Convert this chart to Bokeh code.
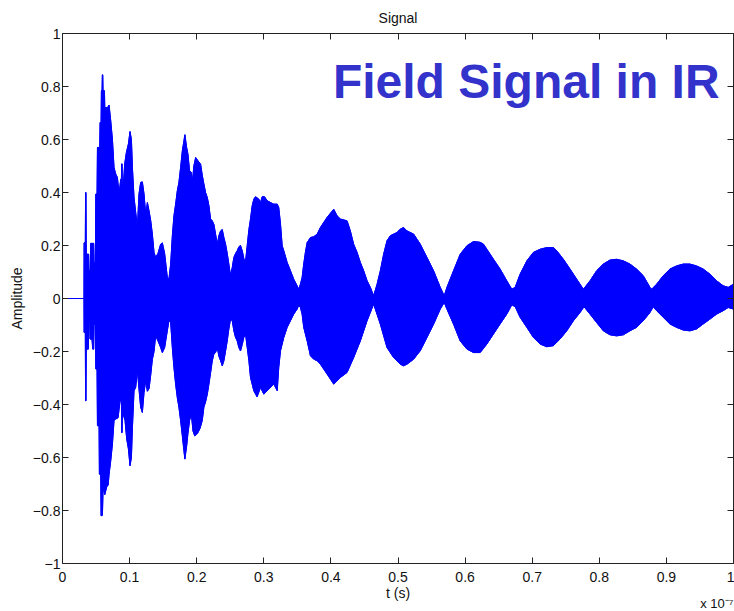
from bokeh.plotting import figure
from bokeh.models import Range1d, LinearAxis, FixedTicker, Label, Title
from bokeh.embed import file_html
from bokeh.resources import INLINE

# ---- data (t in units of 1e-7 s) ----
t_flat = [0.0, 0.032]
v_flat = [0.0, 0.0]

t_upper = [0.0320, 0.0322, 0.0340, 0.0344, 0.0350, 0.0354, 0.0390, 0.0395, 0.0415, 0.0420,
           0.0465, 0.0470, 0.0490, 0.0496, 0.0515, 0.0521, 0.0555, 0.0560, 0.0575, 0.0580,
           0.0590, 0.0594, 0.0600, 0.0604, 0.0625, 0.0630, 0.0670, 0.0694, 0.0719, 0.0744,
           0.0768, 0.0793, 0.0818, 0.0843, 0.0868, 0.0878, 0.0882, 0.0888, 0.0892, 0.0907,
           0.0927, 0.0952, 0.0982, 0.1006, 0.1027, 0.1042, 0.1066, 0.1091, 0.1116, 0.1140,
           0.1165, 0.1190, 0.1215, 0.1240, 0.1265, 0.1290, 0.1314, 0.1339, 0.1364, 0.1388,
           0.1423, 0.1463, 0.1488, 0.1522, 0.1562, 0.1586, 0.1612, 0.1637, 0.1661, 0.1686,
           0.1711, 0.1735, 0.1760, 0.1786, 0.1810, 0.1824, 0.1850, 0.1869, 0.1894, 0.1920,
           0.1935, 0.1958, 0.1984, 0.2018, 0.2058, 0.2083, 0.2107, 0.2132, 0.2158, 0.2182,
           0.2207, 0.2232, 0.2256, 0.2281, 0.2307, 0.2330, 0.2356, 0.2381, 0.2405, 0.2430,
           0.2455, 0.2479, 0.2504, 0.2530, 0.2554, 0.2579, 0.2604, 0.2628, 0.2653, 0.2679,
           0.2703, 0.2728, 0.2753, 0.2778, 0.2802, 0.2827, 0.2851, 0.2877, 0.2926, 0.2951,
           0.2976, 0.3010, 0.3050, 0.3100, 0.3149, 0.3200, 0.3223, 0.3249, 0.3274, 0.3298,
           0.3348, 0.3397, 0.3446, 0.3497, 0.3521, 0.3546, 0.3571, 0.3595, 0.3620, 0.3646,
           0.3695, 0.3744, 0.3795, 0.3844, 0.3943, 0.4042, 0.4092, 0.4141, 0.4241, 0.4290,
           0.4339, 0.4390, 0.4439, 0.4488, 0.4539, 0.4588, 0.4637, 0.4688, 0.4737, 0.4786,
           0.4836, 0.4886, 0.4985, 0.5034, 0.5083, 0.5134, 0.5233, 0.5332, 0.5432, 0.5530,
           0.5630, 0.5689, 0.5729, 0.5828, 0.5927, 0.6027, 0.6125, 0.6225, 0.6274, 0.6324,
           0.6423, 0.6522, 0.6621, 0.6696, 0.6746, 0.6820, 0.6920, 0.7018, 0.7118, 0.7217,
           0.7316, 0.7366, 0.7465, 0.7564, 0.7663, 0.7763, 0.7862, 0.7961, 0.8060, 0.8159,
           0.8258, 0.8358, 0.8457, 0.8556, 0.8655, 0.8755, 0.8780, 0.8854, 0.8953, 0.9052,
           0.9152, 0.9251, 0.9350, 0.9449, 0.9549, 0.9648, 0.9747, 0.9846, 0.9921, 1.0000]
v_upper = [0.000, 0.210, 0.210, 0.400, 0.400, 0.167, 0.167, 0.105, 0.105, 0.208,
           0.208, 0.136, 0.136, 0.394, 0.394, 0.570, 0.570, 0.664, 0.664, 0.784,
           0.784, 0.844, 0.844, 0.784, 0.784, 0.720, 0.720, 0.730, 0.670, 0.600,
           0.494, 0.470, 0.457, 0.395, 0.450, 0.450, 0.508, 0.508, 0.430, 0.430,
           0.508, 0.551, 0.583, 0.630, 0.600, 0.494, 0.381, 0.325, 0.268, 0.394,
           0.438, 0.440, 0.394, 0.317, 0.362, 0.330, 0.295, 0.243, 0.174, 0.155,
           0.170, 0.205, 0.210, 0.170, 0.080, 0.073, 0.130, 0.236, 0.312, 0.356,
           0.406, 0.438, 0.494, 0.557, 0.595, 0.618, 0.570, 0.545, 0.482, 0.476,
           0.438, 0.500, 0.532, 0.520, 0.507, 0.465, 0.432, 0.400, 0.381, 0.350,
           0.300, 0.293, 0.280, 0.243, 0.205, 0.236, 0.255, 0.260, 0.230, 0.205,
           0.170, 0.130, 0.086, 0.117, 0.155, 0.170, 0.180, 0.195, 0.200, 0.180,
           0.150, 0.140, 0.200, 0.260, 0.300, 0.350, 0.375, 0.384, 0.375, 0.362,
           0.384, 0.384, 0.369, 0.362, 0.356, 0.356, 0.343, 0.281, 0.199, 0.180,
           0.136, 0.105, 0.073, 0.048, 0.035, 0.054, 0.079, 0.130, 0.174, 0.211,
           0.230, 0.233, 0.243, 0.268, 0.306, 0.337, 0.312, 0.300, 0.293, 0.255,
           0.205, 0.174, 0.136, 0.105, 0.067, 0.042, 0.010, 0.054, 0.105, 0.167,
           0.218, 0.237, 0.249, 0.262, 0.268, 0.255, 0.243, 0.205, 0.155, 0.105,
           0.042, 0.010, 0.042, 0.105, 0.167, 0.199, 0.215, 0.212, 0.205, 0.186,
           0.148, 0.111, 0.067, 0.035, 0.042, 0.092, 0.142, 0.174, 0.186, 0.192,
           0.192, 0.180, 0.148, 0.111, 0.073, 0.035, 0.067, 0.105, 0.130, 0.145,
           0.148, 0.142, 0.130, 0.111, 0.086, 0.042, 0.035, 0.054, 0.086, 0.111,
           0.123, 0.130, 0.130, 0.123, 0.111, 0.092, 0.067, 0.048, 0.042, 0.054]

t_lower = [0.0320, 0.0322, 0.0340, 0.0344, 0.0350, 0.0354, 0.0385, 0.0390, 0.0405, 0.0410,
           0.0440, 0.0450, 0.0465, 0.0470, 0.0490, 0.0496, 0.0515, 0.0521, 0.0545, 0.0550,
           0.0570, 0.0575, 0.0595, 0.0605, 0.0630, 0.0660, 0.0680, 0.0694, 0.0719, 0.0744,
           0.0768, 0.0793, 0.0828, 0.0858, 0.0878, 0.0882, 0.0888, 0.0892, 0.0907, 0.0932,
           0.0957, 0.0982, 0.1006, 0.1027, 0.1042, 0.1066, 0.1091, 0.1116, 0.1140, 0.1165,
           0.1190, 0.1215, 0.1240, 0.1265, 0.1290, 0.1314, 0.1339, 0.1364, 0.1388, 0.1423,
           0.1463, 0.1488, 0.1522, 0.1562, 0.1586, 0.1612, 0.1637, 0.1661, 0.1686, 0.1711,
           0.1735, 0.1760, 0.1786, 0.1810, 0.1824, 0.1850, 0.1869, 0.1894, 0.1920, 0.1945,
           0.1970, 0.2010, 0.2050, 0.2083, 0.2107, 0.2132, 0.2158, 0.2182, 0.2207, 0.2232,
           0.2256, 0.2281, 0.2307, 0.2330, 0.2356, 0.2381, 0.2405, 0.2430, 0.2455, 0.2479,
           0.2504, 0.2530, 0.2554, 0.2579, 0.2604, 0.2628, 0.2653, 0.2679, 0.2702, 0.2728,
           0.2753, 0.2778, 0.2802, 0.2851, 0.2900, 0.2951, 0.3000, 0.3050, 0.3100, 0.3149,
           0.3200, 0.3223, 0.3249, 0.3298, 0.3348, 0.3397, 0.3446, 0.3497, 0.3521, 0.3546,
           0.3571, 0.3595, 0.3646, 0.3695, 0.3744, 0.3795, 0.3844, 0.3943, 0.4042, 0.4141,
           0.4241, 0.4339, 0.4439, 0.4539, 0.4637, 0.4737, 0.4836, 0.4935, 0.5034, 0.5083,
           0.5134, 0.5233, 0.5332, 0.5432, 0.5530, 0.5630, 0.5689, 0.5729, 0.5828, 0.5927,
           0.6027, 0.6125, 0.6225, 0.6324, 0.6423, 0.6522, 0.6621, 0.6696, 0.6746, 0.6820,
           0.6920, 0.7018, 0.7118, 0.7217, 0.7316, 0.7415, 0.7515, 0.7614, 0.7713, 0.7772,
           0.7862, 0.7961, 0.8060, 0.8159, 0.8258, 0.8358, 0.8457, 0.8556, 0.8655, 0.8755,
           0.8804, 0.8854, 0.8953, 0.9052, 0.9152, 0.9251, 0.9350, 0.9449, 0.9549, 0.9648,
           0.9747, 0.9846, 0.9921, 1.0000]
v_lower = [0.000, -0.128, -0.128, -0.386, -0.386, -0.191, -0.191, -0.078, -0.078, -0.153,
           -0.153, -0.191, -0.191, -0.097, -0.097, -0.266, -0.266, -0.480, -0.480, -0.663,
           -0.663, -0.820, -0.818, -0.713, -0.740, -0.710, -0.705, -0.663, -0.612, -0.549,
           -0.460, -0.455, -0.450, -0.386, -0.386, -0.506, -0.506, -0.440, -0.440, -0.460,
           -0.530, -0.567, -0.631, -0.600, -0.487, -0.348, -0.335, -0.270, -0.342, -0.410,
           -0.430, -0.355, -0.310, -0.350, -0.340, -0.290, -0.230, -0.200, -0.141, -0.160,
           -0.185, -0.204, -0.185, -0.122, -0.084, -0.090, -0.185, -0.260, -0.323, -0.374,
           -0.410, -0.460, -0.518, -0.575, -0.606, -0.557, -0.510, -0.460, -0.436, -0.500,
           -0.518, -0.510, -0.490, -0.460, -0.410, -0.390, -0.361, -0.323, -0.280, -0.235,
           -0.210, -0.204, -0.185, -0.217, -0.235, -0.254, -0.235, -0.198, -0.160, -0.115,
           -0.078, -0.084, -0.122, -0.147, -0.160, -0.185, -0.198, -0.173, -0.147, -0.135,
           -0.185, -0.235, -0.298, -0.348, -0.371, -0.336, -0.361, -0.348, -0.336, -0.323,
           -0.348, -0.260, -0.197, -0.147, -0.109, -0.084, -0.059, -0.040, -0.025, -0.034,
           -0.059, -0.109, -0.160, -0.216, -0.229, -0.235, -0.248, -0.285, -0.323, -0.298,
           -0.279, -0.223, -0.160, -0.084, -0.021, -0.097, -0.185, -0.223, -0.248, -0.254,
           -0.248, -0.229, -0.197, -0.147, -0.097, -0.040, -0.015, -0.040, -0.097, -0.160,
           -0.191, -0.204, -0.204, -0.172, -0.134, -0.096, -0.059, -0.024, -0.031, -0.071,
           -0.109, -0.147, -0.172, -0.182, -0.178, -0.153, -0.122, -0.084, -0.053, -0.031,
           -0.059, -0.091, -0.122, -0.137, -0.141, -0.137, -0.122, -0.109, -0.084, -0.053,
           -0.031, -0.046, -0.071, -0.096, -0.109, -0.119, -0.122, -0.115, -0.096, -0.078,
           -0.059, -0.046, -0.034, -0.040]

x_ticks = [0.0, 0.1, 0.2, 0.3, 0.4, 0.5, 0.6, 0.7, 0.8, 0.9, 1.0]
x_tick_labels = ["0", "0.1", "0.2", "0.3", "0.4", "0.5", "0.6", "0.7", "0.8", "0.9", "1"]
y_ticks = [-1.0, -0.8, -0.6, -0.4, -0.2, 0.0, 0.2, 0.4, 0.6, 0.8, 1.0]
y_tick_labels = ["\u22121", "\u22120.8", "\u22120.6", "\u22120.4", "\u22120.2", "0",
                 "0.2", "0.4", "0.6", "0.8", "1"]

title_text = "Signal"
x_label = "t (s)"
y_label = "Amplitude"
annotation = "Field Signal in IR"
exponent_text = "x 10\u207b\u2077"

FONT = "Liberation Sans"
SIG = "#0000FF"

p = figure(width=734, height=611, output_backend="svg", toolbar_location=None,
           x_range=Range1d(0, 1), y_range=Range1d(-1, 1),
           min_border_left=62, min_border_right=1, min_border_top=32, min_border_bottom=48,
           x_axis_label=x_label, y_axis_label=y_label, title=title_text)
p.background_fill_color = "white"
p.border_fill_color = "white"
p.outline_line_color = None
p.xgrid.visible = False
p.ygrid.visible = False

p.title.align = "center"
p.title.text_font = FONT
p.title.text_font_size = "14px"
p.title.text_font_style = "normal"
p.title.text_color = "#111111"
p.title.standoff = 15


def style_axis(ax, ticks, labels, show_labels=True):
    ax.ticker = FixedTicker(ticks=ticks)
    ax.minor_tick_line_color = None
    ax.major_tick_in = 6
    ax.major_tick_out = 0
    ax.major_tick_line_color = "#222222"
    ax.axis_line_color = "#222222"
    ax.axis_line_width = 1
    ax.major_label_text_font = FONT
    ax.major_label_text_color = "#111111"
    ax.axis_label_text_font = FONT
    ax.axis_label_text_font_size = "14px"
    ax.axis_label_text_font_style = "normal"
    ax.axis_label_text_color = "#111111"
    if show_labels:
        ax.major_label_overrides = {tk: lb for tk, lb in zip(ticks, labels)}
        ax.major_label_text_font_size = "14px"
    else:
        ax.major_label_overrides = {tk: "" for tk in ticks}
        ax.major_label_text_font_size = "0px"
        ax.major_label_standoff = 0


xa = p.xaxis[0]
style_axis(xa, x_ticks, x_tick_labels)
xa.major_label_standoff = 8
xa.axis_label_standoff = 0
ya = p.yaxis[0]
style_axis(ya, y_ticks, y_tick_labels)
ya.major_label_standoff = 2
ya.axis_label_standoff = 5

top = LinearAxis()
style_axis(top, x_ticks, x_tick_labels, show_labels=False)
p.add_layout(top, "above")
right = LinearAxis()
style_axis(right, y_ticks, y_tick_labels, show_labels=False)
p.add_layout(right, "right")

# exponent of the x axis, right-aligned under the axis
p.add_layout(Title(text=exponent_text, align="right", text_font=FONT,
                   text_font_size="13px", text_font_style="normal",
                   text_color="#111111", standoff=-16, vertical_align="top"), "below")

# signal envelope as a filled polygon
poly_x = t_upper + t_lower[::-1]
poly_y = v_upper + v_lower[::-1]
p.patch(poly_x, poly_y, fill_color=SIG, line_color=SIG, line_width=1)
p.line(t_upper, v_upper, line_color=SIG, line_width=1)
p.line(t_lower, v_lower, line_color=SIG, line_width=1)
p.line(t_flat, v_flat, line_color=SIG, line_width=1.2)

p.add_layout(Label(x=0.403, y=0.82, text=annotation, text_font=FONT,
                   text_font_size="48px", text_font_style="bold",
                   text_color="#3333CC", text_baseline="alphabetic"))

open("out.html", "w").write(file_html(p, INLINE))
